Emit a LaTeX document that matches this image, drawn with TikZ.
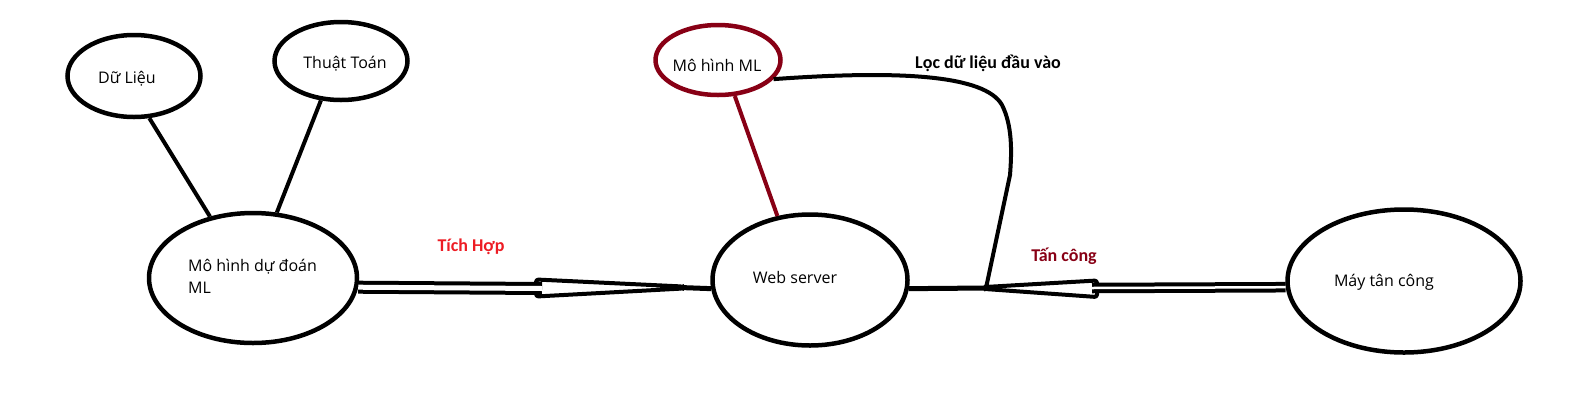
\documentclass[tikz,border=0pt]{standalone}
\usepackage{fontspec}
\setmainfont{Open Sans}
\newfontfamily\lblfont{Carlito}
\usetikzlibrary{shapes.geometric}
\definecolor{dred}{HTML}{880015}
\definecolor{lred}{HTML}{ED1C24}
\begin{document}
\begin{tikzpicture}[x=1pt,y=-1pt,
  oval/.style={ellipse,draw,line width=4.5pt,inner sep=0pt},
  txt/.style={font=\fontsize{16}{22}\selectfont,anchor=base,inner sep=0pt},
  lbl/.style={font=\lblfont\bfseries\fontsize{18}{22}\selectfont,anchor=base,inner sep=0pt},
  wire/.style={line width=4pt},
  thick wire/.style={line width=5pt},
  dbl/.style={line width=4pt,double=white},
  pencil/.style={draw,fill=white,line width=4pt,rounded corners=2.5pt,line join=round}]
\useasboundingbox (0,0) rectangle (1576,408);
% ellipses
\node[oval,minimum width=133pt,minimum height=82pt] (du) at (134,76) {};
\node[oval,minimum width=133pt,minimum height=78pt] (tt) at (341,61) {};
\node[oval,minimum width=208pt,minimum height=130pt] (mh) at (253,278) {};
\node[oval,draw=dred,minimum width=125pt,minimum height=70pt] (ml) at (718,60) {};
\node[oval,minimum width=195pt,minimum height=131pt] (web) at (810,280) {};
\node[oval,minimum width=233pt,minimum height=143pt] (may) at (1404,281) {};
% texts
\node[txt] (dutxt) at (127,83) {Dữ Liệu};
\node[txt] (tttxt) at (345,68) {Thuật Toán};
\node[txt,anchor=base west] (mhtxt1) at (188,271) {Mô hình dự đoán};
\node[txt,anchor=base west] (mhtxt2) at (188,293) {ML};
\node[txt] (mltxt) at (717,71) {Mô hình ML};
\node[txt] (webtxt) at (795,283) {Web server};
\node[txt] (maytxt) at (1384,286) {Máy tân công};
\node[lbl,text=lred] (lb1) at (471,251) {Tích Hợp};
\node[lbl,text=dred] (lb2) at (1064,261) {Tấn công};
\node[lbl] (lb3) at (988,68) {Lọc dữ liệu đầu vào};
% simple connectors
\draw[wire] (du.-70) -- (mh.125);
\draw[wire] (tt.-117) -- (mh.70);
\draw[wire,draw=dred] (ml.-65) -- (web.117);
% left connector
\coordinate (tipL) at (680,287.5);
\coordinate (bluntL) at (542,288.5);
\draw[pencil] (536,279.5) -- (683,286.5) -- (683,288.5) -- (536,296.5) -- cycle;
\draw[dbl,double distance=5pt] (mh.-5.5) -- (bluntL);
\draw[thick wire] (tipL) -- (web.185);
% right connector
\coordinate (tipR) at (986,288);
\coordinate (bluntR) at (1092,288);
\draw[thick wire] (web.-5) -- (tipR);
\draw[pencil] (1097,280.5) -- (985,287) -- (985,289) -- (1097,297) -- cycle;
\draw[dbl,double distance=2.5pt] (bluntR) -- (may.183.5);
% filter curve
\draw[wire] (ml.-19) .. controls (900,70) and (985,75) .. (1002,105)
  .. controls (1012,125) and (1012,150) .. (1010,175) -- (tipR);
\end{tikzpicture}
\end{document}
